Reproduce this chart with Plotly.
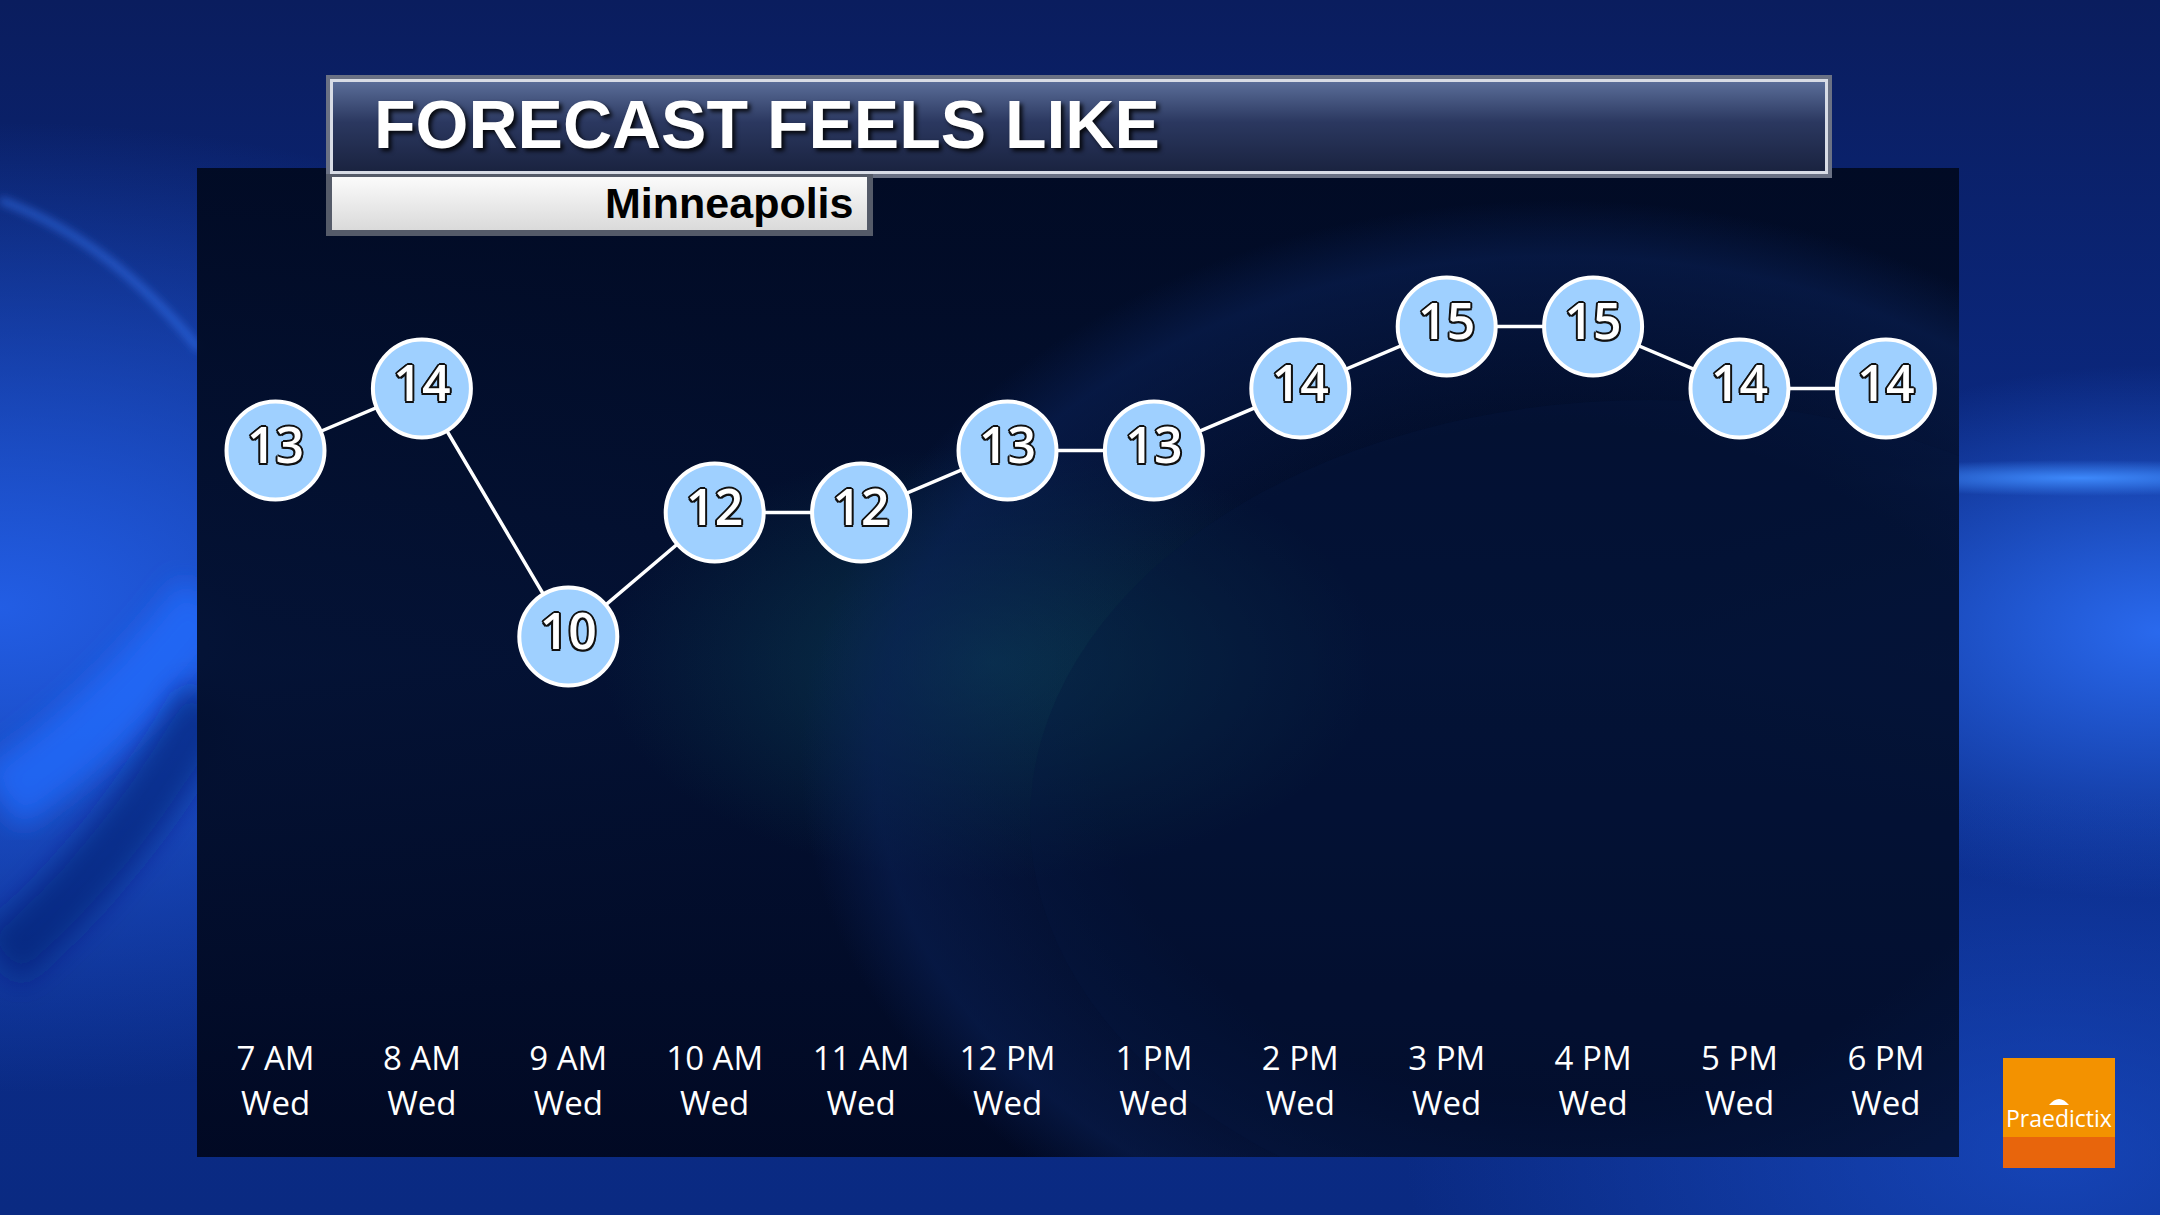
import base64
import plotly.graph_objects as go

# ---------------- data ----------------
hours = ["7 AM", "8 AM", "9 AM", "10 AM", "11 AM", "12 PM",
         "1 PM", "2 PM", "3 PM", "4 PM", "5 PM", "6 PM"]
days = ["Wed"] * 12
feels_like = [13, 14, 10, 12, 12, 13, 13, 14, 15, 15, 14, 14]
title_text = "FORECAST FEELS LIKE"
location = "Minneapolis"
brand = "Praedictix"

W, H = 2160, 1215

# ---------------- decorative background (SVG) ----------------
svg = f"""<svg xmlns='http://www.w3.org/2000/svg' width='{W}' height='{H}' viewBox='0 0 {W} {H}'>
<defs>
 <filter id='blur' x='-20%' y='-20%' width='140%' height='140%'><feGaussianBlur stdDeviation='14'/></filter>
 <filter id='blur2' x='-20%' y='-20%' width='140%' height='140%'><feGaussianBlur stdDeviation='4'/></filter>
 <linearGradient id='bg' x1='0' y1='0' x2='0' y2='1'>
  <stop offset='0' stop-color='#0a1d5e'/>
  <stop offset='0.5' stop-color='#0b2c8c'/>
  <stop offset='1' stop-color='#0a2a82'/>
 </linearGradient>
 <radialGradient id='gl' cx='0' cy='0.5' r='0.4'>
  <stop offset='0' stop-color='#2563ee' stop-opacity='0.9'/>
  <stop offset='1' stop-color='#2563ee' stop-opacity='0'/>
 </radialGradient>
 <radialGradient id='gr' cx='1' cy='0.52' r='0.22'>
  <stop offset='0' stop-color='#2f74ff' stop-opacity='0.85'/>
  <stop offset='1' stop-color='#2f74ff' stop-opacity='0'/>
 </radialGradient>
 <radialGradient id='gb' cx='0.95' cy='0.95' r='0.3'>
  <stop offset='0' stop-color='#1d55d8' stop-opacity='0.6'/>
  <stop offset='1' stop-color='#1d55d8' stop-opacity='0'/>
 </radialGradient>
 <radialGradient id='band' cx='0.5' cy='0.5' r='0.5'>
  <stop offset='0' stop-color='#3f8cff' stop-opacity='0.95'/>
  <stop offset='1' stop-color='#3f8cff' stop-opacity='0'/>
 </radialGradient>
 <linearGradient id='panel' x1='0' y1='0' x2='0' y2='1'>
  <stop offset='0' stop-color='#010a22'/>
  <stop offset='0.5' stop-color='#03102f'/>
  <stop offset='1' stop-color='#010820'/>
 </linearGradient>
 <radialGradient id='teal' cx='0.45' cy='0.5' r='0.22'>
  <stop offset='0' stop-color='#0d4a5a' stop-opacity='0.6'/>
  <stop offset='1' stop-color='#0d4a5a' stop-opacity='0'/>
 </radialGradient>
 <radialGradient id='arcfill' cx='0.5' cy='0.5' r='0.5'>
  <stop offset='0.6' stop-color='#0a2157' stop-opacity='0.0'/>
  <stop offset='0.9' stop-color='#0a2157' stop-opacity='0.55'/>
  <stop offset='1' stop-color='#0a2157' stop-opacity='0'/>
 </radialGradient>
 <linearGradient id='tb' x1='0' y1='0' x2='0' y2='1'>
  <stop offset='0' stop-color='#5a6d98'/>
  <stop offset='0.45' stop-color='#2b3860'/>
  <stop offset='1' stop-color='#1a2340'/>
 </linearGradient>
 <linearGradient id='sb' x1='0' y1='0' x2='0' y2='1'>
  <stop offset='0' stop-color='#fbfbfb'/>
  <stop offset='1' stop-color='#dadada'/>
 </linearGradient>
 <clipPath id='pc'><rect x='197' y='168' width='1762' height='989'/></clipPath>
</defs>
<rect width='{W}' height='{H}' fill='url(#bg)'/>
<rect width='{W}' height='{H}' fill='url(#gl)'/>
<rect width='{W}' height='{H}' fill='url(#gr)'/>
<rect width='{W}' height='{H}' fill='url(#gb)'/>
<ellipse cx='2080' cy='478' rx='260' ry='18' fill='url(#band)'/>
<path d='M0 200 Q110 240 200 350' fill='none' stroke='#3d7dff' stroke-opacity='0.55' stroke-width='7' filter='url(#blur2)'/>
<path d='M0 800 Q120 720 210 600' fill='none' stroke='#1f6dff' stroke-opacity='0.75' stroke-width='70' filter='url(#blur)'/>
<path d='M0 960 Q120 860 210 700' fill='none' stroke='#06226e' stroke-opacity='0.6' stroke-width='60' filter='url(#blur)'/>
<rect x='197' y='168' width='1762' height='989' fill='url(#panel)' fill-opacity='0.96'/>
<g clip-path='url(#pc)'>
 <rect x='197' y='168' width='1762' height='989' fill='url(#teal)'/>
 <ellipse cx='1560' cy='760' rx='760' ry='560' fill='url(#arcfill)'/>
 <ellipse cx='1650' cy='820' rx='620' ry='420' fill='#06173f' fill-opacity='0.35'/>
</g>
<rect x='326' y='75' width='1506' height='103' fill='#6a7184'/>
<rect x='330' y='79' width='1498' height='95' fill='#d8dce6'/>
<rect x='333' y='82' width='1492' height='89' fill='url(#tb)'/>
<rect x='326' y='174' width='547' height='62' fill='#555b69'/>
<rect x='332' y='177' width='535' height='53' fill='url(#sb)'/>
<rect x='2003' y='1058' width='112' height='110' fill='#f39200'/>
<rect x='2003' y='1137' width='112' height='31' fill='#e8650c'/>
<path d='M2049 1105 Q2059 1093 2069 1105 Z' fill='white'/>
</svg>"""
src = "data:image/svg+xml;base64," + base64.b64encode(svg.encode()).decode()

# ---------------- chart ----------------
idx = list(range(len(hours)))

outline = ", ".join(f"{dx}px {dy}px 0 #111"
                    for dx, dy in [(-2, 0), (2, 0), (0, -2), (0, 2),
                                   (-1.5, -1.5), (1.5, -1.5), (-1.5, 1.5), (1.5, 1.5)])

fig = go.Figure()
fig.add_trace(go.Scatter(
    x=idx, y=feels_like,
    mode="lines+markers+text",
    text=[str(v) for v in feels_like],
    textposition="middle center",
    textfont=dict(family="Open Sans, Noto Sans, sans-serif", size=50,
                  color="white", weight=600, shadow=outline),
    line=dict(color="white", width=3.5),
    marker=dict(size=98, color="#9fd0ff", line=dict(color="white", width=4)),
    hoverinfo="skip", showlegend=False,
))
# invisible companion trace so the second (day) axis row is drawn
fig.add_trace(go.Scatter(
    x=idx, y=feels_like, xaxis="x2", mode="markers",
    marker=dict(opacity=0), hoverinfo="skip", showlegend=False,
))

px_per_x = 146.4
x0_px = 275.5
r0 = -x0_px / px_per_x
r1 = r0 + W / px_per_x

plot_bottom_px = 1036
px_per_y = 62.0
top_val = 15 + 326.5 / px_per_y
bot_val = top_val - plot_bottom_px / px_per_y
day_axis_px = 1081

tick_font = dict(family="Open Sans, Noto Sans, sans-serif", size=33, color="white")

fig.update_layout(
    width=W, height=H,
    margin=dict(l=0, r=0, t=0, b=0),
    paper_bgcolor="#0b2a80",
    plot_bgcolor="rgba(0,0,0,0)",
    images=[dict(source=src, xref="paper", yref="paper", x=0, y=1,
                 sizex=1, sizey=1, xanchor="left", yanchor="top",
                 sizing="stretch", layer="below")],
    xaxis=dict(range=[r0, r1], domain=[0, 1], tickmode="array",
               tickvals=idx, ticktext=hours, showgrid=False,
               zeroline=False, showline=False, ticks="",
               tickfont=tick_font, fixedrange=True),
    xaxis2=dict(range=[r0, r1], domain=[0, 1], tickmode="array",
                tickvals=idx, ticktext=days, showgrid=False,
                zeroline=False, showline=False, ticks="",
                overlaying="x", anchor="free", side="bottom",
                position=(H - day_axis_px) / H,
                tickfont=tick_font, fixedrange=True),
    yaxis=dict(range=[bot_val, top_val],
               domain=[(H - plot_bottom_px) / H, 1],
               visible=False, fixedrange=True),
    annotations=[
        dict(text=f"<b>{title_text}</b>", xref="paper", yref="paper",
             x=372 / W, y=1 - 124 / H, xanchor="left", yanchor="middle",
             showarrow=False,
             font=dict(family="Liberation Sans Narrow, Liberation Sans, Arial, sans-serif",
                       size=68, color="white",
                       shadow="3px 3px 4px rgba(0,0,0,0.85)")),
        dict(text=f"<b>{location}</b>", xref="paper", yref="paper",
             x=855 / W, y=1 - 203 / H, xanchor="right", yanchor="middle",
             showarrow=False,
             font=dict(family="Liberation Sans Narrow, Liberation Sans, Arial, sans-serif",
                       size=43, color="black")),
        dict(text=brand, xref="paper", yref="paper",
             x=2059 / W, y=1 - 1118 / H, xanchor="center", yanchor="middle",
             showarrow=False,
             font=dict(family="Open Sans, Noto Sans, sans-serif",
                       size=23, color="white")),
    ],
)

fig.write_html("out.html", config={"displayModeBar": False},
               post_script="document.body.style.margin='0';document.body.style.overflow='hidden';")
